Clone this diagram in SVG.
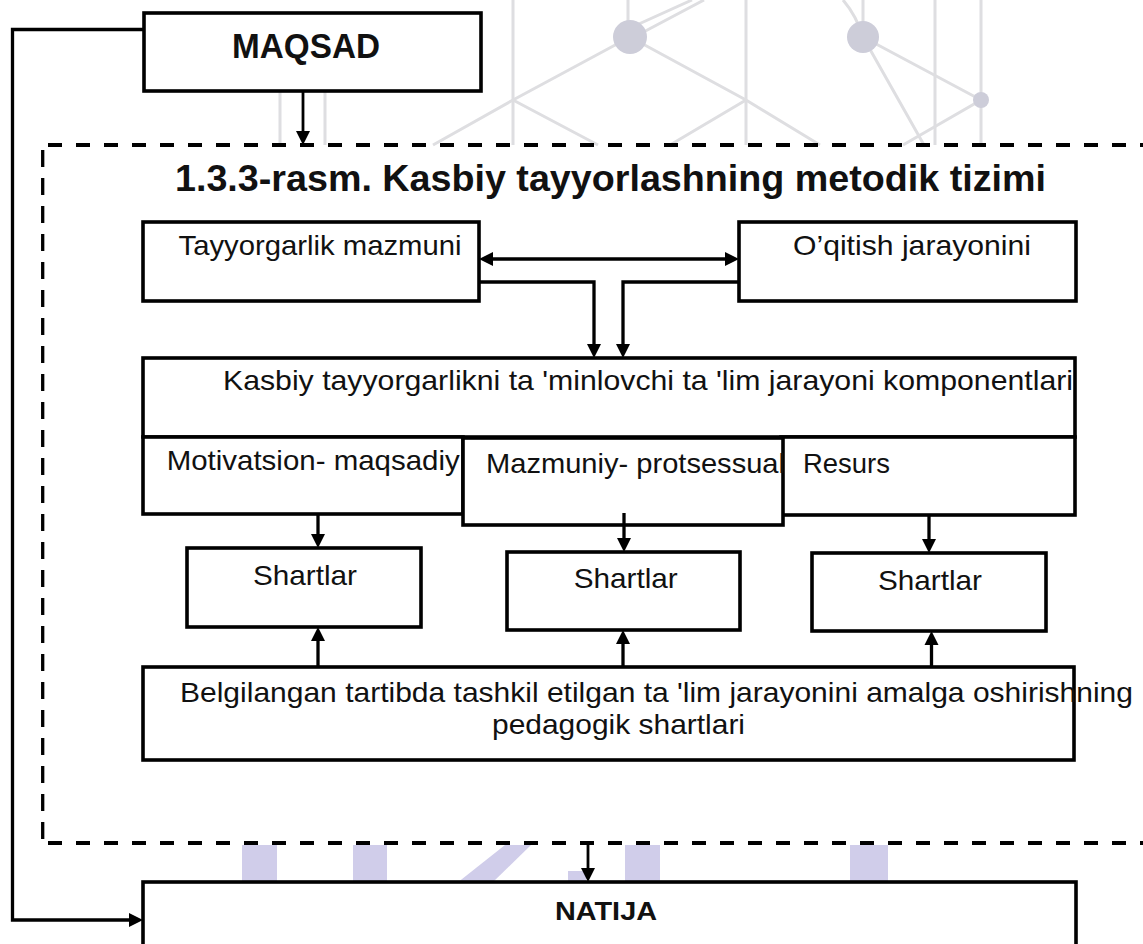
<svg xmlns="http://www.w3.org/2000/svg" width="1143" height="944" viewBox="0 0 1143 944">
<defs>
<marker id="arr" markerUnits="userSpaceOnUse" markerWidth="16" markerHeight="16" refX="4" refY="7" orient="auto-start-reverse" viewBox="0 0 16 14">
<path d="M0,0 L14,7 L0,14 z" fill="#000"/>
</marker>
<style>
.box{fill:#fff;stroke:#000;stroke-width:3.6}
.con{fill:none;stroke:#000;stroke-width:3.3}
.dash{fill:none;stroke:#000;stroke-width:3.8}
.wm{fill:none;stroke:#dedee1;stroke-width:3}
.wmc{fill:#cdcdd9}
.wmb{fill:#d0cdea}
.t{font-family:"Liberation Sans","Noto Sans",sans-serif;font-size:28px;fill:#111}
.b{font-family:"Liberation Sans","Noto Sans",sans-serif;font-weight:bold;fill:#111}
</style>
</defs>
<rect x="0" y="0" width="1143" height="944" fill="#fff"/>
<g id="watermark">
<path class="wm" d="M280,91 V145 M325,91 V145 M513,0 V145 M746,0 V145 M935,0 V145 M981,0 V145 M628,0 V37 M863,0 V37"/>
<path class="wm" d="M630,37 L513,100 L433,145 M630,37 L746,100 L820,145 M513,100 L598,145 M746,100 L670,145 M863,37 L981,100 L903,145 M863,37 L924,145 M630,28 L692,0 M636,36 L704,0 M843,0 Q856,15 863,37"/>
<circle class="wmc" cx="630" cy="37" r="17"/>
<circle class="wmc" cx="863" cy="37" r="16"/>
<circle class="wmc" cx="981" cy="100" r="8"/>
<rect class="wmb" x="242" y="845" width="35" height="38"/>
<rect class="wmb" x="353" y="845" width="34" height="38"/>
<polygon class="wmb" points="505,845 531,845 492,883 457,883"/>
<rect class="wmb" x="568" y="871" width="18" height="12"/>
<rect class="wmb" x="625" y="845" width="35" height="38"/>
<rect class="wmb" x="850" y="845" width="38" height="38"/>
</g>
<g id="frame">
<line class="dash" x1="48" y1="145" x2="1143" y2="145" stroke-dasharray="14 14"/>
<line class="dash" x1="42.7" y1="150" x2="42.7" y2="843" stroke-dasharray="17 11" style="stroke-width:3.3"/>
<line class="dash" x1="48" y1="843" x2="1143" y2="843" stroke-dasharray="14 14"/>
<text class="b" x="175" y="191" font-size="36" textLength="871" lengthAdjust="spacingAndGlyphs">1.3.3-rasm. Kasbiy tayyorlashning metodik tizimi</text>
</g>
<g id="connectors">
<line class="con" x1="303" y1="91" x2="303" y2="135" marker-end="url(#arr)" style="stroke-width:2.8"/>
<polyline class="con" points="144,29.5 12.5,29.5 12.5,920 133,920" marker-end="url(#arr)"/>
<line class="con" x1="489" y1="259" x2="729" y2="259" marker-start="url(#arr)" marker-end="url(#arr)"/>
<polyline class="con" points="479,282 594,282 594,348" marker-end="url(#arr)"/>
<polyline class="con" points="739,282 623,282 623,348" marker-end="url(#arr)"/>
<line class="con" x1="318" y1="514" x2="318" y2="538" marker-end="url(#arr)"/>
<line class="con" x1="624" y1="513" x2="624" y2="542" marker-end="url(#arr)"/>
<line class="con" x1="929" y1="515" x2="929" y2="543" marker-end="url(#arr)"/>
<line class="con" x1="318" y1="667" x2="318" y2="637" marker-end="url(#arr)"/>
<line class="con" x1="623" y1="667" x2="623" y2="640" marker-end="url(#arr)"/>
<line class="con" x1="931.5" y1="667" x2="931.5" y2="641" marker-end="url(#arr)"/>
<line class="con" x1="588" y1="843" x2="588" y2="872" marker-end="url(#arr)" style="stroke-width:2.8"/>
</g>
<g id="maqsad">
<rect class="box" x="144" y="13" width="337" height="78"/>
<text class="b" x="306" y="58" font-size="35" text-anchor="middle" textLength="148" lengthAdjust="spacingAndGlyphs">MAQSAD</text>
</g>
<g id="tayyorgarlik">
<rect class="box" x="143" y="222" width="336" height="79"/>
<text class="t" x="178.5" y="255" textLength="283" lengthAdjust="spacingAndGlyphs">Tayyorgarlik mazmuni</text>
</g>
<g id="oqitish">
<rect class="box" x="739" y="222" width="337" height="79"/>
<text class="t" x="793" y="255" textLength="238" lengthAdjust="spacingAndGlyphs">O’qitish jarayonini</text>
</g>
<g id="kasbiy">
<rect class="box" x="143" y="358" width="932" height="79"/>
<text class="t" x="223" y="390" textLength="850" lengthAdjust="spacingAndGlyphs">Kasbiy tayyorgarlikni ta ʹminlovchi ta ʹlim jarayoni komponentlari</text>
</g>
<g id="motivatsion">
<rect class="box" x="143" y="437" width="320" height="77"/>
<text class="t" x="166.7" y="470" textLength="293" lengthAdjust="spacingAndGlyphs">Motivatsion- maqsadiy</text>
</g>
<g id="resurs">
<rect class="box" x="781" y="437" width="294" height="78"/>
<text class="t" x="803" y="472.7" textLength="87" lengthAdjust="spacingAndGlyphs">Resurs</text>
</g>
<g id="mazmuniy">
<rect class="box" x="463" y="438" width="320" height="87"/>
<line class="con" x1="624" y1="513" x2="624" y2="525"/>
<text class="t" x="486" y="473" textLength="299" lengthAdjust="spacingAndGlyphs">Mazmuniy- protsessual</text>
</g>
<g id="shartlar1">
<rect class="box" x="187" y="548" width="234" height="79"/>
<text class="t" x="253" y="585" textLength="104" lengthAdjust="spacingAndGlyphs">Shartlar</text>
</g>
<g id="shartlar2">
<rect class="box" x="507" y="552" width="233" height="78"/>
<text class="t" x="573.7" y="588" textLength="104" lengthAdjust="spacingAndGlyphs">Shartlar</text>
</g>
<g id="shartlar3">
<rect class="box" x="812" y="553" width="234" height="78"/>
<text class="t" x="878" y="590" textLength="104" lengthAdjust="spacingAndGlyphs">Shartlar</text>
</g>
<g id="belgilangan">
<rect class="box" x="143" y="667" width="931" height="93"/>
<text class="t" x="180" y="701.7" textLength="953" lengthAdjust="spacingAndGlyphs">Belgilangan tartibda tashkil etilgan ta ʹlim jarayonini amalga oshirishning</text>
<text class="t" x="492" y="734" textLength="253" lengthAdjust="spacingAndGlyphs">pedagogik shartlari</text>
</g>
<g id="natija">
<rect class="box" x="143" y="882" width="933" height="80"/>
<text class="b" x="555" y="920" font-size="26" textLength="102" lengthAdjust="spacingAndGlyphs">NATIJA</text>
</g>
</svg>
